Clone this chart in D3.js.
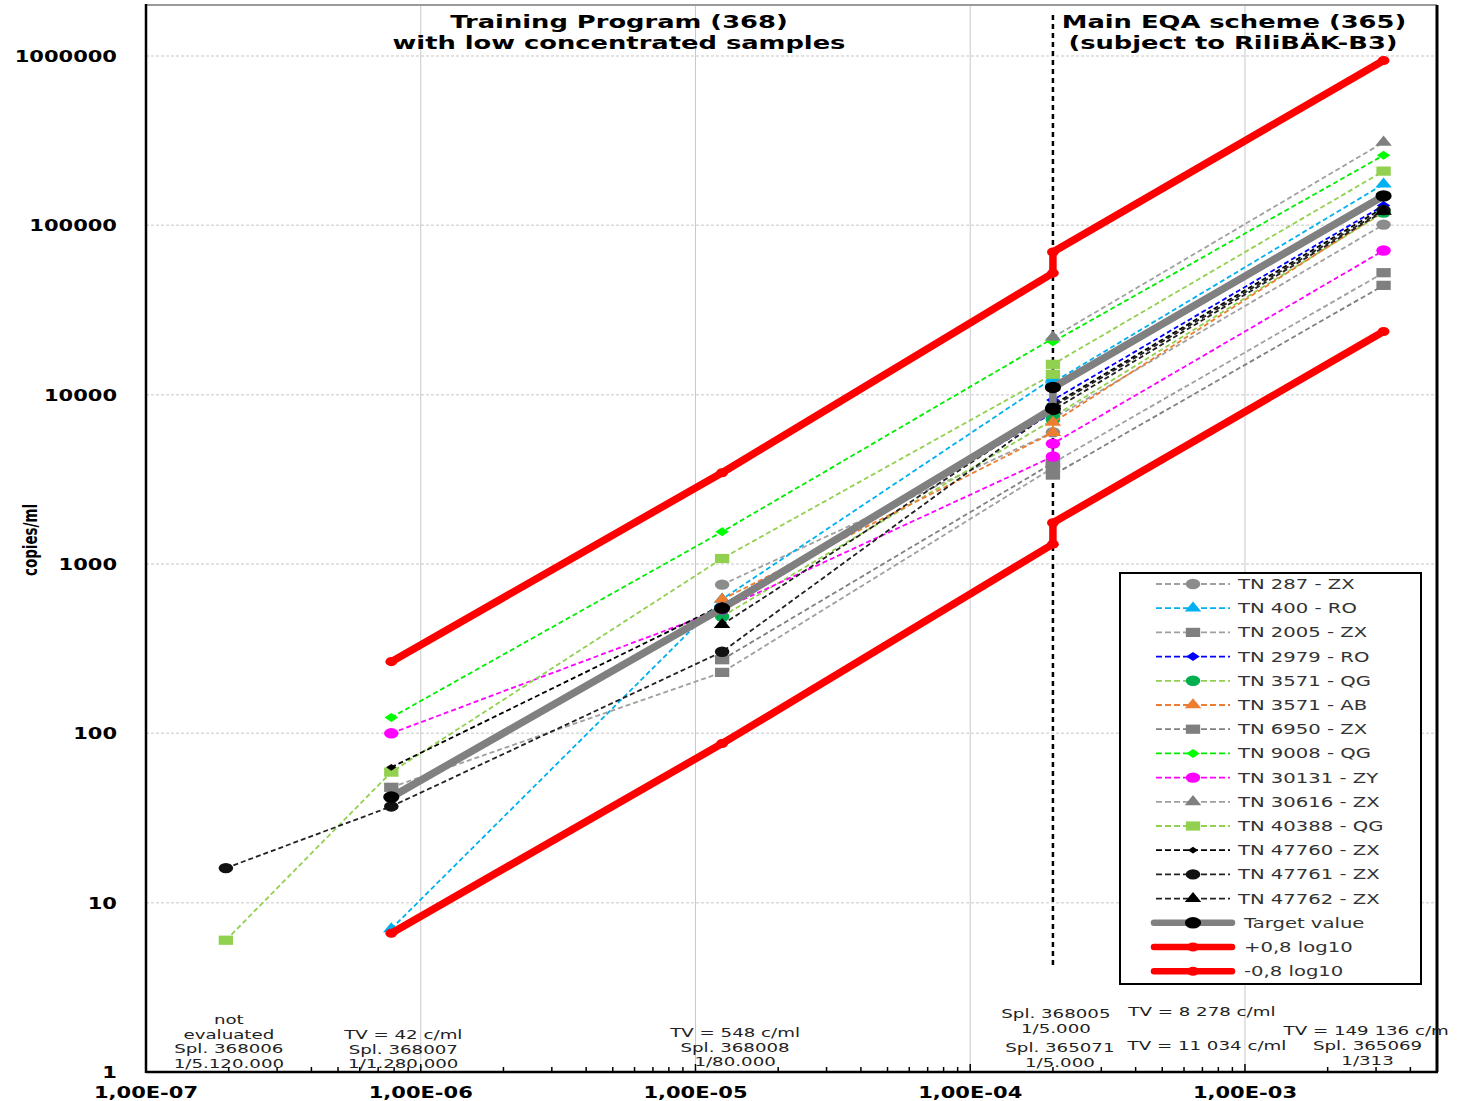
<!DOCTYPE html>
<html>
<head>
<meta charset="UTF-8">
<style>
  body { margin: 0; background: #fff; }
  svg { display: block; background: #fff; font-family: "DejaVu Sans", Verdana, sans-serif; }
</style>
</head>
<body>
<svg id="chart"></svg>
<script src="https://d3js.org/d3.v7.min.js"></script>
<script>

// sample order on the x axis (dilution = 1/x)
const samples   = ["368006", "368007", "368008", "368005", "365071", "365069"];
const dilutions = [5120000, 1280000, 80000, 5000, 5000, 313];

// copies/ml per participant, null = no result
const tn287   = [null, null, 755, 6000, 7200, 101000];
const tn400   = [null, 7, 620, 12500, 11800, 175000];
const tn2005  = [null, 48, 229, 3700, 3950, 52500];
const tn2979  = [null, null, 570, 7800, 9300, 131000];
const tn3571q = [null, null, 490, 7100, 7400, 119000];
const tn3571a = [null, null, 617, 5970, 6850, 121000];
const tn6950  = [null, null, 272, 3950, 3350, 44200];
const tn9008  = [null, 124, 1550, 21500, 20500, 259000];
const tn30131 = [null, 100, 540, 4310, 5140, 71000];
const tn30616 = [null, null, null, null, 21800, 309000];
const tn40388 = [6, 59, 1077, 13200, 15100, 209000];
const tn47760 = [null, 63, 570, 8300, 8700, 127000];
const tn47761 = [16, 37, 303, 8100, 8500, 123000];
const tn47762 = [null, null, 438, 8200, 8100, 121000];
const target  = [null, 42, 548, 8278, 11034, 149136];
const upper   = [null, 265, 3460, 52200, 69600, 941000];
const lower   = [null, 6.6, 87, 1310, 1750, 23600];

const xTicks = [1e-7, 1e-6, 1e-5, 1e-4, 1e-3];
const xTickLabels = ["1,00E-07", "1,00E-06", "1,00E-05", "1,00E-04", "1,00E-03"];
const yTicks = [1, 10, 100, 1000, 10000, 100000, 1000000];
const yTickLabels = ["1", "10", "100", "1000", "10000", "100000", "1000000"];

let width = 1464, height = 1101;
let svg = d3.select("#chart").attr("width", width).attr("height", height);

// plot area
let L = 146, R = 1437, T = 5, B = 1072;
let x = d3.scaleLog().domain([1e-7, 5e-3]).range([L, R]);
let y = d3.scaleLog().domain([1, 2e6]).range([B, T]);

const KX = 1.4; // the original picture is stretched sideways
function stretch(sel) {
  sel.each(function () {
    let w = this.getComputedTextLength();
    d3.select(this).attr("textLength", w * KX).attr("lengthAdjust", "spacingAndGlyphs");
  });
}

// grid
svg.append("g").selectAll("line").data(yTicks.slice(1)).enter().append("line")
  .attr("x1", L).attr("x2", R).attr("y1", d => y(d)).attr("y2", d => y(d))
  .attr("stroke", "#d9d9d9").attr("stroke-width", 1.5).attr("stroke-dasharray", "3,2");
svg.append("g").selectAll("line").data(xTicks.slice(1)).enter().append("line")
  .attr("x1", d => x(d)).attr("x2", d => x(d)).attr("y1", T).attr("y2", B)
  .attr("stroke", "#c8c8c8").attr("stroke-width", 1);

// minor ticks on x axis
let minor = [];
for (let e = -7; e <= -3; e++) for (let m = 2; m <= 9; m++) {
  let v = m * Math.pow(10, e);
  if (v < 5e-3) minor.push(v);
}
svg.append("g").selectAll("line").data(minor).enter().append("line")
  .attr("x1", d => x(d)).attr("x2", d => x(d)).attr("y1", B).attr("y2", B - 5)
  .attr("stroke", "#000").attr("stroke-width", 1.5);
svg.append("g").selectAll("line").data(xTicks).enter().append("line")
  .attr("x1", d => x(d)).attr("x2", d => x(d)).attr("y1", B).attr("y2", B - 8)
  .attr("stroke", "#000").attr("stroke-width", 1.5);

// frame
svg.append("line").attr("x1", L).attr("x2", R).attr("y1", T).attr("y2", T).attr("stroke", "#9a9a9a").attr("stroke-width", 2);
svg.append("line").attr("x1", R).attr("x2", R).attr("y1", T).attr("y2", B).attr("stroke", "#000").attr("stroke-width", 3);
svg.append("line").attr("x1", L).attr("x2", L).attr("y1", T - 1).attr("y2", B + 1).attr("stroke", "#000").attr("stroke-width", 2.5);
svg.append("line").attr("x1", L).attr("x2", R + 1).attr("y1", B).attr("y2", B).attr("stroke", "#000").attr("stroke-width", 2.5);

// tick labels
svg.append("g").selectAll("text").data(yTicks).enter().append("text")
  .attr("x", 117).attr("y", d => y(d) + 6).attr("text-anchor", "end")
  .attr("font-size", 15).attr("font-weight", "bold").attr("fill", "#000")
  .text((d, i) => yTickLabels[i]).call(stretch);
svg.append("g").selectAll("text").data(xTicks).enter().append("text")
  .attr("x", d => x(d)).attr("y", 1098).attr("text-anchor", "middle")
  .attr("font-size", 15).attr("font-weight", "bold").attr("fill", "#000")
  .text((d, i) => xTickLabels[i]).call(stretch);

svg.append("text").attr("transform", "translate(37,540) rotate(-90)")
  .attr("text-anchor", "middle").attr("font-size", 19).attr("font-weight", "bold")
  .attr("textLength", 72).attr("lengthAdjust", "spacingAndGlyphs").text("copies/ml");

// section titles
let titles = [
  { t: "Training Program (368)", x: 619, y: 28 },
  { t: "with low concentrated samples", x: 619, y: 49 },
  { t: "Main EQA scheme (365)", x: 1234, y: 28 },
  { t: "(subject to RiliBÄK-B3)", x: 1233, y: 49 }
];
svg.append("g").selectAll("text").data(titles).enter().append("text")
  .attr("x", d => d.x).attr("y", d => d.y).attr("text-anchor", "middle")
  .attr("font-size", 18.4).attr("font-weight", "bold").text(d => d.t).call(stretch);

// separator between the two schemes
svg.append("line").attr("x1", x(1 / 5000)).attr("x2", x(1 / 5000))
  .attr("y1", 15).attr("y2", y(4.1))
  .attr("stroke", "#000").attr("stroke-width", 2.5).attr("stroke-dasharray", "5,4");

// series
let series = [
  { name: "TN 287 - ZX",   v: tn287,   line: "#a0a0a0", mark: "#8c8c8c", sym: "circle" },
  { name: "TN 400 - RO",   v: tn400,   line: "#00b0f0", mark: "#00b0f0", sym: "triangle" },
  { name: "TN 2005 - ZX",  v: tn2005,  line: "#a0a0a0", mark: "#808080", sym: "square" },
  { name: "TN 2979 - RO",  v: tn2979,  line: "#0000ff", mark: "#0000ff", sym: "diamond" },
  { name: "TN 3571 - QG",  v: tn3571q, line: "#92d050", mark: "#00b050", sym: "circle" },
  { name: "TN 3571 - AB",  v: tn3571a, line: "#ed7d31", mark: "#ed7d31", sym: "triangle" },
  { name: "TN 6950 - ZX",  v: tn6950,  line: "#808080", mark: "#7f7f7f", sym: "square" },
  { name: "TN 9008 - QG",  v: tn9008,  line: "#00ee00", mark: "#00ff00", sym: "diamond" },
  { name: "TN 30131 - ZY", v: tn30131, line: "#ff00ff", mark: "#ff00ff", sym: "circle" },
  { name: "TN 30616 - ZX", v: tn30616, line: "#a0a0a0", mark: "#808080", sym: "triangle" },
  { name: "TN 40388 - QG", v: tn40388, line: "#92d050", mark: "#92d050", sym: "square" },
  { name: "TN 47760 - ZX", v: tn47760, line: "#000000", mark: "#000000", sym: "smalldiamond" },
  { name: "TN 47761 - ZX", v: tn47761, line: "#222222", mark: "#111111", sym: "circle" },
  { name: "TN 47762 - ZX", v: tn47762, line: "#222222", mark: "#000000", sym: "triangle" },
  { name: "Target value",  v: target,  line: "#808080", mark: "#000000", sym: "bigcircle", thick: 7.5 },
  { name: "+0,8 log10",    v: upper,   line: "#ff0000", mark: "#ff0000", sym: "redcircle", thick: 7.5 },
  { name: "-0,8 log10",    v: lower,   line: "#ff0000", mark: "#ff0000", sym: "redcircle", thick: 7.5 }
];

// symbol shapes, drawn then squeezed/stretched to match the wide picture
let symDef = {
  circle:       { type: d3.symbolCircle,   size: 85,  sx: 1.4, sy: 1 },
  bigcircle:    { type: d3.symbolCircle,   size: 105, sx: 1.4, sy: 1 },
  redcircle:    { type: d3.symbolCircle,   size: 65,  sx: 1.3, sy: 1 },
  triangle:     { type: d3.symbolTriangle, size: 65,  sx: 1.35, sy: 0.95 },
  square:       { type: d3.symbolSquare,   size: 105, sx: 1.4, sy: 0.9 },
  diamond:      { type: d3.symbolDiamond,  size: 55,  sx: 1.7, sy: 0.65 },
  smalldiamond: { type: d3.symbolDiamond,  size: 32,  sx: 1.7, sy: 0.65 }
};
function symPath(k) { return d3.symbol().type(symDef[k].type).size(symDef[k].size)(); }
function symTf(k, px, py) { return "translate(" + px + "," + py + ") scale(" + symDef[k].sx + "," + symDef[k].sy + ")"; }

let line = d3.line()
  .defined(d => d.v != null)
  .x(d => x(1 / d.d))
  .y(d => y(d.v));

series.forEach(s => {
  let pts = s.v.map((v, i) => ({ v: v, d: dilutions[i] }));
  let g = svg.append("g");
  g.append("path").datum(pts).attr("d", line).attr("fill", "none")
    .attr("stroke", s.line).attr("stroke-width", s.thick || 1.8)
    .attr("stroke-dasharray", s.thick ? null : "5,3")
    .attr("stroke-linejoin", "round").attr("stroke-linecap", s.thick ? "round" : "butt");
  g.selectAll("path.m").data(pts.filter(p => p.v != null)).enter().append("path")
    .attr("class", "m").attr("d", symPath(s.sym))
    .attr("transform", p => symTf(s.sym, x(1 / p.d), y(p.v)))
    .attr("fill", s.mark);
});

// bottom annotations, placed under each sample
let notes = [
  { s: 0, dx: 3,   y: 1024, t: ["not", "evaluated", "Spl. 368006", "1/5.120.000"], a: "middle" },
  { s: 1, dx: 12,  y: 1039, t: ["TV = 42 c/ml", "Spl. 368007", "1/1.280.000"], a: "middle" },
  { s: 2, dx: 13,  y: 1037, t: ["TV = 548 c/ml", "Spl. 368008", "1/80.000"], a: "middle" },
  { s: 3, dx: 3,   y: 1018, t: ["Spl. 368005", "1/5.000"], a: "middle" },
  { s: 3, dx: 149, y: 1016, t: ["TV = 8 278 c/ml"], a: "middle" },
  { s: 4, dx: 7,   y: 1052, t: ["Spl. 365071", "1/5.000"], a: "middle" },
  { s: 4, dx: 154, y: 1050, t: ["TV = 11 034 c/ml"], a: "middle" },
  { s: 5, dx: -100, y: 1035, t: ["TV = 149 136 c/m"], a: "start" },
  { s: 5, dx: -16, y: 1050, t: ["Spl. 365069", "1/313"], a: "middle" }
];
notes.forEach(n => {
  let px = x(1 / dilutions[n.s]) + n.dx;
  let g = svg.append("g");
  g.selectAll("text").data(n.t).enter().append("text")
    .attr("x", px).attr("y", (d, i) => n.y + i * 14.5)
    .attr("text-anchor", n.a).attr("font-size", 13).attr("fill", "#222")
    .text(d => d).call(stretch);
});

// legend
let lg = svg.append("g");
lg.append("rect").attr("x", 1120).attr("y", 573).attr("width", 301).attr("height", 411)
  .attr("fill", "#fff").attr("stroke", "#000").attr("stroke-width", 2);
series.forEach((s, i) => {
  let ly = 584 + i * 24.2;
  lg.append("line").attr("x1", s.thick ? 1154 : 1156).attr("x2", s.thick ? 1232 : 1230)
    .attr("y1", ly).attr("y2", ly)
    .attr("stroke", s.line).attr("stroke-width", s.thick ? 6.5 : 1.8)
    .attr("stroke-dasharray", s.thick ? null : "6,3")
    .attr("stroke-linecap", s.thick ? "round" : "butt");
  lg.append("path").attr("d", symPath(s.sym)).attr("transform", symTf(s.sym, 1193, ly)).attr("fill", s.mark);
  lg.append("text").attr("x", s.thick ? 1244 : 1238).attr("y", ly + 5)
    .attr("font-size", 14).attr("fill", "#333").text(s.name).call(stretch);
});

</script>
</body>
</html>
